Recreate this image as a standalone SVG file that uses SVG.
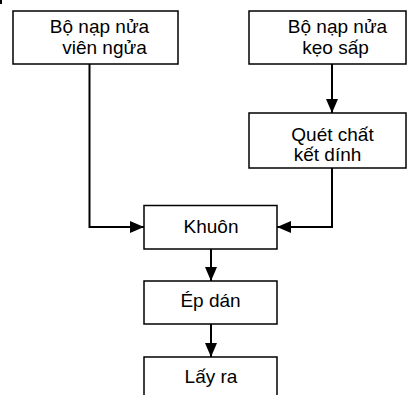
<svg xmlns="http://www.w3.org/2000/svg" width="407" height="395" viewBox="0 0 407 395">
<style>
.box{fill:#fff;stroke:#000;stroke-width:1.5}
.t{font-family:"Liberation Sans",Arial,sans-serif;font-size:19px;fill:#000;text-anchor:middle}
.c{fill:none;stroke:#000;stroke-width:2}
</style>
<defs>
<marker id="ah" markerWidth="14" markerHeight="12" refX="14" refY="6" orient="auto" markerUnits="userSpaceOnUse">
<path d="M0,0 L14,6 L0,12 Z" fill="#000"/>
</marker>
</defs>
<rect x="0" y="0" width="2" height="4" fill="#000"/>
<g id="connectors">
<path class="c" d="M89.5,64 V227 H144" marker-end="url(#ah)"/>
<path class="c" d="M332,64 V113" marker-end="url(#ah)"/>
<path class="c" d="M332,168 V227 H277" marker-end="url(#ah)"/>
<path class="c" d="M211,249 V281" marker-end="url(#ah)"/>
<path class="c" d="M211,324 V357" marker-end="url(#ah)"/>
</g>
<g id="n1">
<rect class="box" x="13" y="11" width="165" height="53"/>
<text class="t" x="99.5" y="33">Bộ nạp nửa</text>
<text class="t" x="104.5" y="54">viên ngửa</text>
</g>
<g id="n2">
<rect class="box" x="249" y="11" width="157" height="53"/>
<text class="t" x="337.5" y="33">Bộ nạp nửa</text>
<text class="t" x="335.5" y="54">kẹo sấp</text>
</g>
<g id="n3">
<rect class="box" x="249" y="113" width="157" height="55"/>
<text class="t" x="332.5" y="140.5">Quét chất</text>
<text class="t" x="327.5" y="160.5">kết dính</text>
</g>
<g id="n4">
<rect class="box" x="144" y="205.5" width="133" height="43.5"/>
<text class="t" x="211" y="232.5">Khuôn</text>
</g>
<g id="n5">
<rect class="box" x="144" y="281" width="133" height="43"/>
<text class="t" x="210.5" y="307">Ép dán</text>
</g>
<g id="n6">
<rect class="box" x="144" y="357" width="133" height="45"/>
<text class="t" x="211" y="383">Lấy ra</text>
</g>
</svg>
